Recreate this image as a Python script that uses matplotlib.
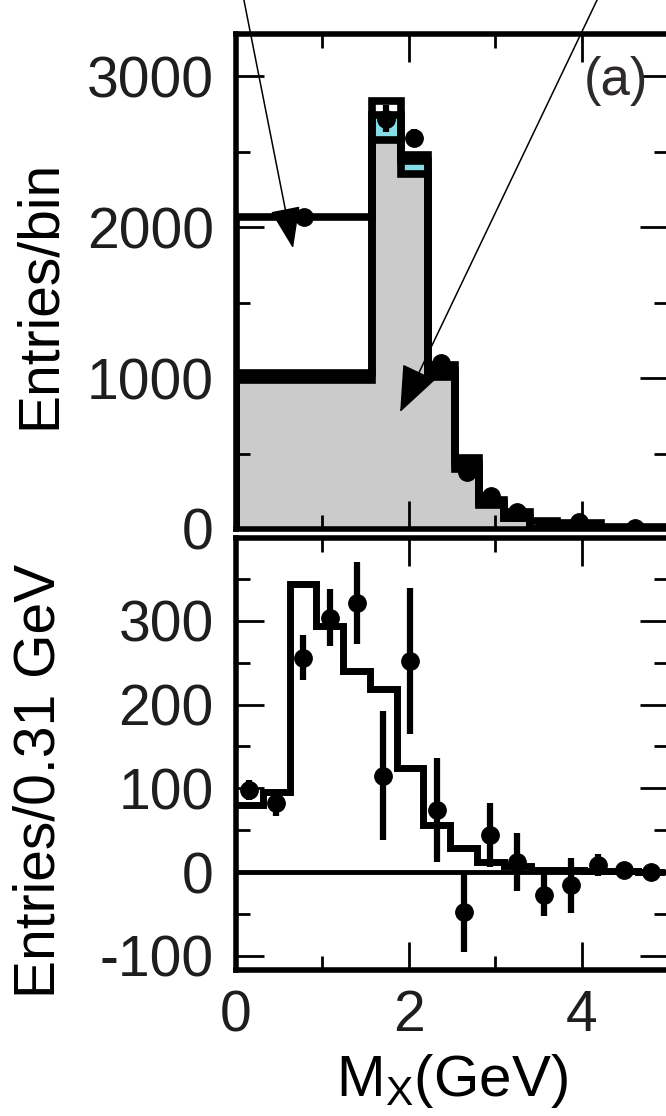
import numpy as np
import matplotlib
matplotlib.use("Agg")
import matplotlib.pyplot as plt
from matplotlib.ticker import MultipleLocator

plt.rcParams['font.family'] = ['Liberation Sans', 'DejaVu Sans']
plt.rcParams['mathtext.fontset'] = 'custom'
plt.rcParams['mathtext.rm'] = 'Liberation Sans'
plt.rcParams['mathtext.it'] = 'Liberation Sans'
plt.rcParams['axes.unicode_minus'] = False

# ---- top panel (a): stacked histograms + data
top_edges = [0, 1.57, 1.91, 2.22, 2.53, 2.81, 3.10, 3.40, 3.72, 4.23, 5.0]
top_gray = [990, 2575, 2350, 1010, 400, 160, 70, 0, 0, 0]
top_cyan = [45, 167, 90, 40, 30, 10, 5, 0, 0, 0]
top_total = [2066, 2834, 2480, 1085, 470, 190, 115, 55, 40, 13]
top_data_x = [0.785, 1.74, 2.065, 2.375, 2.67, 2.955, 3.25, 3.56, 3.975, 4.615]
top_data_y = [2066, 2720, 2590, 1100, 380, 218, 113, 15, 45, 8]
top_data_err = [30, 90, 60, 30, 20, 20, 15, 10, 20, 10]

# ---- bottom panel: entries per 0.31 GeV
bot_edges = np.round(np.arange(17) * 0.31, 2)
bot_hist = [80, 96, 344, 294, 240, 219, 124, 56, 29, 12, 7, 2, 2, 1, 1, 0]
bot_data_y = [98, 82, 256, 304, 321, 115, 252, 74, -48, 44, 12, -27, -16, 8, 2, 0]
bot_data_err = [12, 15, 27, 34, 49, 77, 87, 62, 47, 38, 35, 26, 33, 13, 4, 3]

fig = plt.figure(figsize=(6.66, 11.16), dpi=100)
W, H = 666.0, 1116.0
ax1 = fig.add_axes([236 / W, 1 - 529 / H, 432 / W, 495 / H])
ax2 = fig.add_axes([236 / W, 1 - 970 / H, 432 / W, 432 / H])

gray = np.array(top_gray)
gc = gray + np.array(top_cyan)
ax1.stairs(gray, top_edges, fill=True, color='#cbcbcb', zorder=1)
ax1.stairs(gc, top_edges, baseline=gray, fill=True, color='#86dde6', zorder=1)
ax1.stairs(gray, top_edges, color='k', lw=5.5, zorder=2)
ax1.stairs(gc, top_edges, color='k', lw=5.5, zorder=2)
ax1.stairs(top_total, top_edges, color='k', lw=5.5, zorder=2)
ax1.errorbar(top_data_x, top_data_y, yerr=top_data_err, fmt='o', color='k',
             ms=12.5, elinewidth=4.5, capsize=0, zorder=3)

ax1.set_xlim(0, 5)
ax1.set_ylim(0, 3280)
ax1.xaxis.set_major_locator(MultipleLocator(2))
ax1.xaxis.set_minor_locator(MultipleLocator(1))
ax1.yaxis.set_major_locator(MultipleLocator(1000))
ax1.yaxis.set_minor_locator(MultipleLocator(500))
ax1.tick_params(labelbottom=False)
ax1.set_ylabel('Entries/bin', fontsize=41)
ax1.yaxis.set_label_coords(-0.392, 0.473)
ax1.text(0.88, 0.905, '(a)', transform=ax1.transAxes, fontsize=38,
         color='#2e2a2a', ha='center', va='center')

# arrows pointing into the two regions
ax1.annotate('', xy=(0.66, 1860), xytext=(0.0, 3770), annotation_clip=False,
             arrowprops=dict(arrowstyle='-|>,head_length=0.55,head_width=0.2',
                             mutation_scale=48, color='k', lw=1.1,
                             shrinkA=0, shrinkB=0), zorder=5)
ax1.annotate('', xy=(1.90, 775), xytext=(4.40, 3770), annotation_clip=False,
             arrowprops=dict(arrowstyle='-|>,head_length=0.55,head_width=0.22',
                             mutation_scale=54, color='k', lw=1.1,
                             shrinkA=0, shrinkB=0), zorder=5)

bx = (bot_edges[:-1] + bot_edges[1:]) / 2
ax2.axhline(0, color='k', lw=3.5, zorder=1)
ax2.stairs(bot_hist, bot_edges, color='k', lw=5, baseline=None, zorder=2)
ax2.errorbar(bx, bot_data_y, yerr=bot_data_err, fmt='o', color='k',
             ms=12.5, elinewidth=4.5, capsize=0, zorder=3)
ax2.set_xlim(0, 5)
ax2.set_ylim(-117, 399)
ax2.xaxis.set_major_locator(MultipleLocator(2))
ax2.xaxis.set_minor_locator(MultipleLocator(1))
ax2.yaxis.set_major_locator(MultipleLocator(100))
ax2.yaxis.set_minor_locator(MultipleLocator(50))
ax2.set_ylabel('Entries/0.31 GeV', fontsize=41)
ax2.yaxis.set_label_coords(-0.392, 0.4375)
ax2.set_xlabel(r'M$_\mathrm{X}$(GeV)', fontsize=42, labelpad=6)

for ax in (ax1, ax2):
    for s in ax.spines.values():
        s.set_linewidth(4)
    ax.tick_params(which='both', direction='in', top=True, right=True,
                   width=2, labelsize=41, pad=16, colors='k',
                   labelcolor='#1e1e1e')
    ax.tick_params(which='major', length=20)
    ax.tick_params(which='minor', length=10)
ax2.tick_params(axis='x', pad=14)

fig.savefig('out.png', dpi=100)
